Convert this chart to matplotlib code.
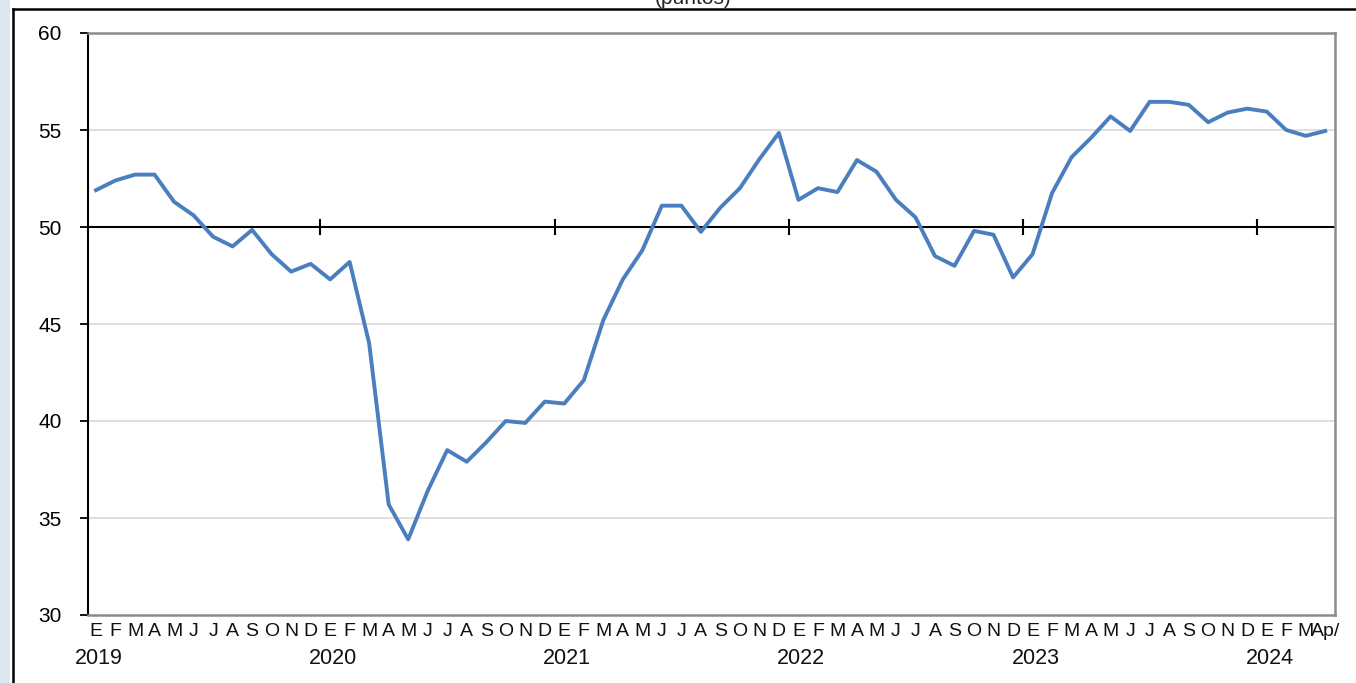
import matplotlib
matplotlib.use('Agg')
import matplotlib.pyplot as plt
from matplotlib.patches import Rectangle
from matplotlib.lines import Line2D

plt.rcParams.update({
    'font.family': ['Liberation Sans', 'DejaVu Sans'],
})

# monthly index, Jan 2019 .. Apr 2024 (Ap/ = preliminary)
years = ['2019', '2020', '2021', '2022', '2023', '2024']
months = ['E', 'F', 'M', 'A', 'M', 'J', 'J', 'A', 'S', 'O', 'N', 'D']
values = [
    51.9, 52.4, 52.7, 52.7, 51.3, 50.6, 49.5, 49.0, 49.85, 48.6, 47.7, 48.1,   # 2019
    47.3, 48.2, 44.0, 35.7, 33.9, 36.4, 38.5, 37.9, 38.9, 40.0, 39.9, 41.0,    # 2020
    40.9, 42.1, 45.2, 47.3, 48.8, 51.1, 51.1, 49.75, 51.0, 52.0, 53.5, 54.85,  # 2021
    51.4, 52.0, 51.8, 53.45, 52.85, 51.4, 50.5, 48.5, 48.0, 49.8, 49.6, 47.4,  # 2022
    48.6, 51.75, 53.6, 54.6, 55.7, 54.95, 56.45, 56.45, 56.3, 55.4, 55.9, 56.1,  # 2023
    55.95, 55.0, 54.7, 54.95,                                                   # 2024
]
last_label = 'Ap/'
yticks = [30, 35, 40, 45, 50, 55, 60]

n = len(values)
x = list(range(n))
month_labels = [months[i % 12] for i in x]
month_labels[-1] = last_label

W, H = 1356, 683
fig = plt.figure(figsize=(W / 100, H / 100), dpi=100)
fig.patch.set_facecolor('white')

# outer frame of the clipped slide
fig.patches.append(Rectangle((0, 0), 10 / W, 1, transform=fig.transFigure,
                             facecolor='#dbe8f1', edgecolor='none'))
fig.lines.append(Line2D([13 / W, 13 / W], [0, 1 - 9 / H], transform=fig.transFigure,
                        color='black', lw=1.8))
fig.lines.append(Line2D([13 / W, 1], [1 - 9 / H, 1 - 9 / H], transform=fig.transFigure,
                        color='black', lw=1.8))
fig.text(693 / W, 1 - 8 / H, '(puntos)', ha='center', va='bottom', fontsize=15, color='#222222')

ax = fig.add_axes([88 / W, 1 - 615 / H, (1335 - 88) / W, (615 - 33) / H])

ax.set_ylim(30, 60)
ax.set_xlim(-0.41, n - 0.5)
ax.set_yticks(yticks)
ax.set_yticklabels([str(t) for t in yticks])

for y in yticks:
    if y not in (30, 50, 60):
        ax.axhline(y, color='#d9d9d9', lw=1.2, zorder=1)
ax.axhline(50, color='black', lw=1.5, zorder=2)

# year separators drawn as ticks on the 50 line
for k in range(1, len(years)):
    xb = 12 * k - 0.5
    ax.plot([xb, xb], [49.62, 50.38], color='black', lw=1.5, zorder=2)

ax.plot(x, values, color='#4a7ebf', lw=2.8, solid_joinstyle='round', zorder=3)

for side in ('top', 'right', 'bottom'):
    ax.spines[side].set_color('#8c8c8c')
    ax.spines[side].set_linewidth(1.8)
ax.spines['left'].set_color('black')
ax.spines['left'].set_linewidth(1.5)

ax.tick_params(axis='y', direction='out', length=6, width=1.3, pad=13,
               labelsize=15, colors='black')
ax.set_xticks(x)
ax.set_xticklabels(month_labels)
ax.tick_params(axis='x', length=0, pad=6, labelsize=14, colors='#111111')

for k, yr in enumerate(years):
    ax.text(12 * k + 0.15, -0.075, yr, transform=ax.get_xaxis_transform(),
            ha='center', va='center', fontsize=15.5, color='#111111')

fig.savefig('out.png', dpi=100)
